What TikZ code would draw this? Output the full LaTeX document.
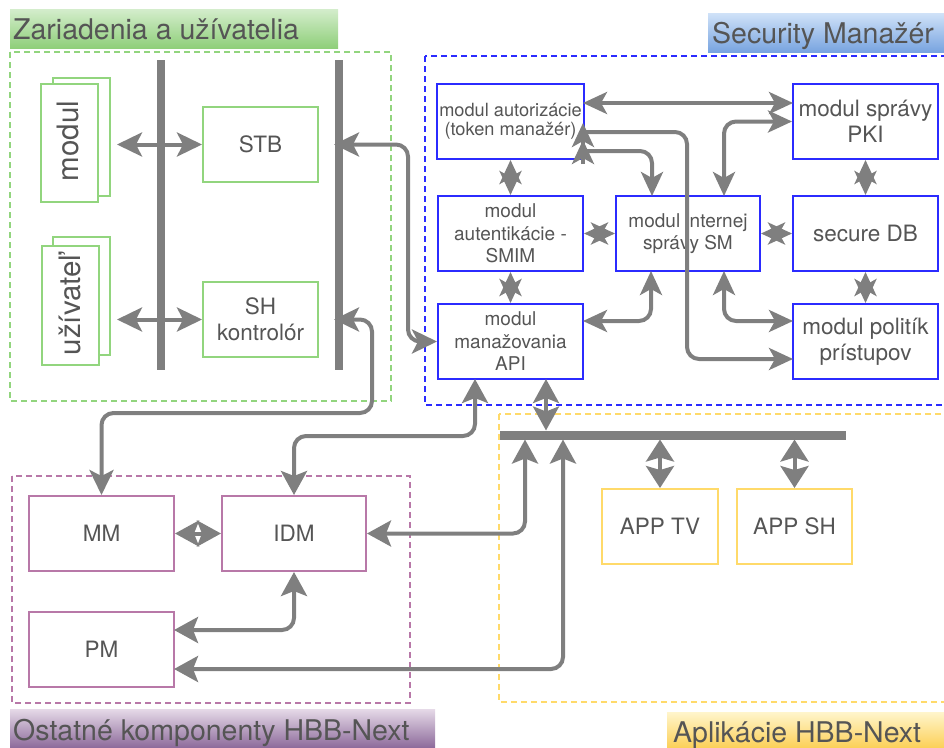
\documentclass[tikz,border=0pt]{standalone}
\usepackage{fontspec}
\setmainfont{TeX Gyre Heros}
\usetikzlibrary{arrows.meta,calc}
\definecolor{lg}{HTML}{7F7F7F}
\definecolor{tx}{HTML}{555555}
\definecolor{grn}{HTML}{92D57E}
\definecolor{blu}{HTML}{2B2BFF}
\definecolor{pur}{HTML}{B878A8}
\definecolor{yel}{HTML}{FFDA6A}
\definecolor{grnT}{HTML}{D4EDCC}
\definecolor{grnB}{HTML}{8FCF7A}
\definecolor{bluT}{HTML}{D0E2F8}
\definecolor{bluB}{HTML}{78A4E0}
\definecolor{purT}{HTML}{E6DAE8}
\definecolor{purB}{HTML}{8E6C9C}
\definecolor{yelT}{HTML}{FFF5CC}
\definecolor{yelB}{HTML}{FCD15A}
\newcommand\fszT{\fontsize{28.5}{32}\selectfont}
\newcommand\fszA{\fontsize{22.5}{26}\selectfont}
\newcommand\fszB{\fontsize{19}{22.5}\selectfont}
\newcommand\fszC{\fontsize{18.2}{19.5}\selectfont}
\newcommand\fszR{\fontsize{29.5}{32}\selectfont}
\tikzset{
  conn/.style={draw=lg, line width=4pt, rounded corners=12pt},
  dev/.style={conn, {Stealth[length=25pt,width=24pt,inset=6pt]}-{Stealth[length=25pt,width=24pt,inset=6pt]}},
  oth/.style={conn, {Stealth[length=24pt,width=26pt,inset=5pt]}-{Stealth[length=24pt,width=26pt,inset=5pt]}},
  app/.style={conn, {Stealth[length=22pt,width=28pt,inset=4pt]}-{Stealth[length=22pt,width=28pt,inset=4pt]}},
  smc/.style={conn, {Stealth[length=24pt,width=22pt,inset=6pt]}-{Stealth[length=24pt,width=22pt,inset=6pt]}},
  smo/.style={conn, -{Stealth[length=24pt,width=22pt,inset=6pt]}},
  cont/.style={line width=1.5pt, dash pattern=on 6pt off 4pt},
  box/.style={line width=2pt, fill=white, text=tx, align=center, inner sep=2pt},
  gbox/.style={box, draw=grn, minimum width=115pt, minimum height=75pt, font=\fszA},
  sbox/.style={box, draw=blu, minimum width=145pt, minimum height=75pt},
  pbox/.style={box, draw=pur, minimum width=145pt, minimum height=75pt, font=\fszA},
  ybox/.style={box, draw=yel, minimum width=115pt, minimum height=75pt, font=\fszA},
  stack/.style={box, draw=grn, minimum width=57pt, minimum height=118pt},
  bar/.style={fill=lg, inner sep=0pt},
  ttl/.style={anchor=base west, font=\fszT, text=tx, inner sep=0pt},
}
\begin{document}
\begin{tikzpicture}[x=1pt,y=-1pt]
\useasboundingbox (0,0) rectangle (944,747);
% banners
\shade[top color=grnT, bottom color=grnB] (10,9) rectangle (338,48);
\node[ttl] (t1) at (13,39) {Zariadenia a užívatelia};
\shade[top color=bluT, bottom color=bluB] (708,13) rectangle (944,52);
\node[ttl] (t2) at (712,43) {Security Manažér};
\shade[top color=purT, bottom color=purB] (10,709) rectangle (435,747);
\node[ttl] (t3) at (13,740) {Ostatné komponenty HBB-Next};
\shade[top color=yelT, bottom color=yelB] (667,712) rectangle (944,747);
\node[ttl] (t4) at (673,742) {Aplikácie HBB-Next};
% containers
\draw[cont, grn] (10,52) rectangle (391,401);
\draw[cont, blu] (425,56) rectangle (947,405);
\draw[cont, yel] (499,414) rectangle (947,702);
\draw[cont, pur] (12,476) rectangle (410,703);
% devices and users
\node[stack] (modB) at (81.5,137) {};
\node[stack] (modF) at (69.5,143) {};
\node[rotate=90, font=\fszR, text=tx, inner sep=0pt] (modT) at (68,141) {modul};
\node[stack] (usrB) at (81.5,296) {};
\node[stack, minimum height=119pt] (usrF) at (70.5,305.5) {};
\node[rotate=90, font=\fszR, text=tx, inner sep=0pt] (usrT) at (70,305) {užívateľ};
\node[bar, minimum width=8pt, minimum height=310pt] (bar1) at (161,215) {};
\node[bar, minimum width=8pt, minimum height=310pt] (bar2) at (339,215) {};
\node[gbox] (STB) at (260.5,144.5) {STB};
\node[gbox] (SH) at (260.5,319.5) {SH\\kontrolór};
% security manager
\node[sbox, font=\fszC] (aut) at (510.5,121.5) {modul autorizácie\\(token manažér)};
\node[sbox, font=\fszB] (autent) at (510.5,233.5) {modul\\autentikácie -\\SMIM};
\node[sbox, font=\fszB] (api) at (510.5,341.5) {modul\\manažovania\\API};
\node[sbox, font=\fszB, minimum width=144pt] (intern) at (688,233.5) {modul internej\\správy SM};
\node[sbox, font=\fszA] (pki) at (865.5,121.5) {modul správy\\PKI};
\node[sbox, font=\fszA] (sdb) at (865.5,233.5) {secure DB};
\node[sbox, font=\fszA] (pol) at (865.5,341.5) {modul politík\\prístupov};
% other components
\node[pbox] (MM) at (101.5,533.5) {MM};
\node[pbox, minimum width=144pt] (IDM) at (294,533.5) {IDM};
\node[pbox] (PM) at (101.5,649.5) {PM};
% applications
\node[bar, minimum width=346pt, minimum height=9pt] (bus) at (673,435) {};
\node[ybox, minimum width=116pt] (APPTV) at (660,526.5) {APP TV};
\node[ybox] (APPSH) at (794.5,526.5) {APP SH};
% free ends
\coordinate (modA) at (117,144.5);
\coordinate (usrA) at (117,319.5);
\coordinate (b2s) at (334,144.5);
\coordinate (b2h) at (334,319.5);
\coordinate (apiB1) at (475,379);
\coordinate (apiB2) at (546,379);
\coordinate (busT) at (546,430.5);
\coordinate (busB1) at (525,439.5);
\coordinate (busB2) at (563,439.5);
\coordinate (busB3) at (660,439.5);
\coordinate (busB4) at (794.5,439.5);
\coordinate (pmR) at (174,669);
\coordinate (pmR2) at (174,630);
\coordinate (autR1) at (583,103);
\coordinate (pkiL1) at (793,103);
\coordinate (autR2) at (583,132);
\coordinate (autR3) at (583,151);
\coordinate (polL1) at (793,321);
\coordinate (polL2) at (793,359);
\coordinate (apiR) at (583,321);
\coordinate (intT1) at (652,196);
\coordinate (intT2) at (724,196);
\coordinate (intB1) at (651,271);
\coordinate (intB2) at (724,271);
% connectors: devices
\draw[dev] (modA) -- (STB.west);
\draw[dev] (usrA) -- (SH.west);
\draw[dev] (b2s) -- (408,144.5) -- (408,341.5) -- (api.west);
\draw[dev] (b2h) -- (372,319.5) -- (372,413) -| (MM.north);
% connectors: other components
\draw[oth] (apiB1) -- (475,436) -| (IDM.north);
\draw[oth] (apiB2) -- (busT);
\draw[oth] (IDM.east) -| (busB1);
\draw[oth] (pmR) -| (busB2);
\draw[oth] (IDM.south) |- (pmR2);
\draw[oth] (MM.east) -- (IDM.west);
\draw[app] (busB3) -- (APPTV.north);
\draw[app] (busB4) -- (APPSH.north);
% connectors: security manager
\draw[smc] (autR1) -- (pkiL1);
\draw[smc] (pki.west) -| (intT2);
\draw[smo] (autR2) -- (687,132) -- (687,359) -- (polL2);
\draw[smo] (583,147) -- (583,123);
\draw[smo] (autR3) -- (652,151) -- (intT1);
\draw[smo] (583,164) -- (583,140);
\draw[smc] (aut.south) -- (autent.north);
\draw[smc] (autent.south) -- (api.north);
\draw[smc] (autent.east) -- (intern.west);
\draw[smc] (intern.east) -- (sdb.west);
\draw[smc] (pki.south) -- (sdb.north);
\draw[smc] (sdb.south) -- (pol.north);
\draw[smc] (apiR) -| (intB1);
\draw[smc] (intB2) |- (polL1);
\end{tikzpicture}
\end{document}
